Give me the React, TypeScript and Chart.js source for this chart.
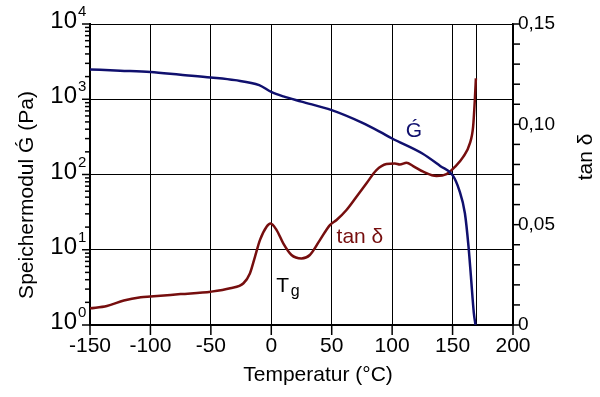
import React, { useEffect, useRef } from "react";
import { Chart, registerables } from "chart.js";

Chart.register(...registerables);

// Storage modulus G' (Pa) vs temperature (°C)
const gTemps = [-150, -125, -100, -75, -50, -30, -10, 0, 10, 25, 50, 75, 90, 100, 125, 140, 150, 155.5, 160.2, 163.2, 165.2, 167.6, 169];
const gValues = [2490, 2400, 2310, 2120, 1950, 1795, 1540, 1250, 1090, 930, 716, 489, 369, 301, 190, 129, 98, 62, 30.5, 11, 4.4, 1.44, 1.0];

// tan delta vs temperature (°C)
const tanTemps = [-150, -136, -122, -108, -100, -75, -50, -34, -23, -17.7, -13.5, -9.4, -3.9, -0.6, 4.4, 9.9, 16.7, 25, 31.9, 40.2, 48.5, 54, 62.2, 70.5, 78.8, 87, 95.3, 102.3, 106.4, 111.9, 117.4, 125.7, 136.7, 145, 151.9, 158.8, 164.3, 167, 168.4, 169.3];
const tanValues = [0.0083, 0.0095, 0.0122, 0.0138, 0.0142, 0.0154, 0.0166, 0.0183, 0.0208, 0.0257, 0.034, 0.0423, 0.049, 0.0506, 0.0473, 0.0407, 0.0349, 0.0332, 0.0349, 0.0423, 0.0498, 0.0523, 0.0573, 0.0639, 0.0706, 0.0772, 0.0802, 0.0805, 0.08, 0.0809, 0.0792, 0.0764, 0.0742, 0.0752, 0.0788, 0.0838, 0.0905, 0.0988, 0.112, 0.1229];

const xTicks = [-150, -100, -50, 0, 50, 100, 150, 200];
const logTicks = [1, 10, 100, 1000, 10000];
const logExponents = ["0", "1", "2", "3", "4"];
const tanTicks = [0, 0.05, 0.1, 0.15];
const tanMinorStep = 0.01;
const extraGridX = [169];

const BLUE = "rgb(16,16,110)";
const RED = "rgb(118,14,14)";
const FONT = "'Liberation Sans', Arial, sans-serif";

const customPlugin = {
  id: "custom",
  beforeDatasetsDraw(chart: any) {
    const { ctx, chartArea } = chart;
    const x = chart.scales.x;
    ctx.save();
    ctx.strokeStyle = "#000";
    ctx.lineWidth = 1;
    extraGridX.forEach((v) => {
      const px = Math.round(x.getPixelForValue(v)) + 0.5;
      ctx.beginPath();
      ctx.moveTo(px, chartArea.top);
      ctx.lineTo(px, chartArea.bottom);
      ctx.stroke();
    });
    ctx.restore();
  },
  afterDraw(chart: any) {
    const { ctx, chartArea } = chart;
    const x = chart.scales.x;
    const y = chart.scales.y;
    const y2 = chart.scales.y2;
    ctx.save();
    ctx.strokeStyle = "#000";
    // left log ticks
    ctx.lineWidth = 1.5;
    for (let d = 0; d < logTicks.length; d++) {
      const base = logTicks[d];
      const py = y.getPixelForValue(base);
      ctx.beginPath();
      ctx.moveTo(chartArea.left - 8, py);
      ctx.lineTo(chartArea.left, py);
      ctx.stroke();
      if (d < logTicks.length - 1) {
        for (let m = 2; m <= 9; m++) {
          const pm = y.getPixelForValue(base * m);
          ctx.beginPath();
          ctx.moveTo(chartArea.left - 5, pm);
          ctx.lineTo(chartArea.left, pm);
          ctx.stroke();
        }
      }
    }
    // bottom ticks
    xTicks.forEach((v) => {
      const px = x.getPixelForValue(v);
      ctx.beginPath();
      ctx.moveTo(px, chartArea.bottom);
      ctx.lineTo(px, chartArea.bottom + 10);
      ctx.stroke();
    });
    // right ticks
    const n = Math.round((y2.max - y2.min) / tanMinorStep);
    for (let i = 0; i <= n; i++) {
      const py = y2.getPixelForValue(y2.min + i * tanMinorStep);
      ctx.beginPath();
      ctx.moveTo(chartArea.right, py);
      ctx.lineTo(chartArea.right + 7, py);
      ctx.stroke();
    }
    // left labels 10^n
    ctx.fillStyle = "#000";
    ctx.textBaseline = "alphabetic";
    logTicks.forEach((v, i) => {
      const py = y.getPixelForValue(v);
      ctx.font = `24px ${FONT}`;
      ctx.textAlign = "right";
      ctx.fillText("10", 77, py + 4);
      ctx.font = `15px ${FONT}`;
      ctx.textAlign = "left";
      ctx.fillText(logExponents[i], 78, py - 8);
    });
    // axis titles
    ctx.font = `21px ${FONT}`;
    ctx.textAlign = "center";
    ctx.textBaseline = "middle";
    ctx.fillText("Temperatur (°C)", 318, 375);
    ctx.save();
    ctx.translate(27, 195);
    ctx.rotate(-Math.PI / 2);
    ctx.fillText("Speichermodul Ǵ (Pa)", 0, 0);
    ctx.restore();
    ctx.save();
    ctx.translate(586, 157);
    ctx.rotate(-Math.PI / 2);
    ctx.fillText("tan δ", 0, 0);
    ctx.restore();
    // annotations
    ctx.textAlign = "center";
    ctx.fillStyle = BLUE;
    ctx.fillText("Ǵ", x.getPixelForValue(118), y.getPixelForValue(377));
    ctx.fillStyle = RED;
    ctx.textAlign = "left";
    ctx.textBaseline = "alphabetic";
    ctx.fillText("tan δ", x.getPixelForValue(54), y2.getPixelForValue(0.0409));
    ctx.fillStyle = "#000";
    ctx.fillText("T", x.getPixelForValue(4.2), y2.getPixelForValue(0.0164));
    ctx.font = `16px ${FONT}`;
    ctx.fillText("g", x.getPixelForValue(16.2), y2.getPixelForValue(0.0147));
    ctx.restore();
  },
};

export default function App() {
  const ref = useRef<HTMLCanvasElement>(null);
  useEffect(() => {
    document.body.style.margin = "0";
    const chart = new Chart(ref.current!, {
      type: "line",
      data: {
        datasets: [
          {
            label: "G'",
            data: gTemps.map((t, i) => ({ x: t, y: gValues[i] })),
            borderColor: BLUE,
            borderWidth: 2.5,
            pointRadius: 0,
            cubicInterpolationMode: "monotone",
            yAxisID: "y",
          },
          {
            label: "tan δ",
            data: tanTemps.map((t, i) => ({ x: t, y: tanValues[i] })),
            borderColor: RED,
            borderWidth: 2.5,
            pointRadius: 0,
            cubicInterpolationMode: "monotone",
            yAxisID: "y2",
          },
        ],
      },
      options: {
        animation: false,
        responsive: false,
        layout: { padding: { top: 24, left: 0, right: 0, bottom: 0 } },
        plugins: { legend: { display: false }, tooltip: { enabled: false } },
        scales: {
          x: {
            type: "linear",
            min: -150,
            max: 200,
            afterBuildTicks: (s: any) => {
              s.ticks = xTicks.map((v) => ({ value: v }));
            },
            afterFit: (s: any) => {
              s.height = 72;
            },
            grid: { color: "#000", lineWidth: 1, drawTicks: false },
            border: { color: "#000", width: 2 },
            ticks: { color: "#000", font: { family: FONT, size: 21 }, padding: 9, maxRotation: 0 },
          },
          y: {
            type: "logarithmic",
            position: "left",
            min: 1,
            max: 10000,
            afterBuildTicks: (s: any) => {
              s.ticks = logTicks.map((v) => ({ value: v }));
            },
            afterFit: (s: any) => {
              s.width = 90;
            },
            grid: { color: "#000", lineWidth: 1, drawTicks: false },
            border: { color: "#000", width: 2 },
            ticks: { display: false },
          },
          y2: {
            type: "linear",
            position: "right",
            min: 0,
            max: 0.15,
            afterBuildTicks: (s: any) => {
              s.ticks = tanTicks.map((v) => ({ value: v }));
            },
            afterFit: (s: any) => {
              s.width = 87;
            },
            grid: { display: false, drawTicks: false },
            border: { color: "#000", width: 1.5 },
            ticks: {
              color: "#000",
              font: { family: FONT, size: 19 },
              padding: 5,
              callback: (v: any) => (v === 0 ? "0" : Number(v).toFixed(2).replace(".", ",")),
            },
          },
        },
      },
      plugins: [customPlugin],
    } as any);
    return () => chart.destroy();
  }, []);
  return (
    <div style={{ width: 600, height: 397 }}>
      <canvas ref={ref} width={600} height={397} style={{ width: 600, height: 397, display: "block" }} />
    </div>
  );
}
